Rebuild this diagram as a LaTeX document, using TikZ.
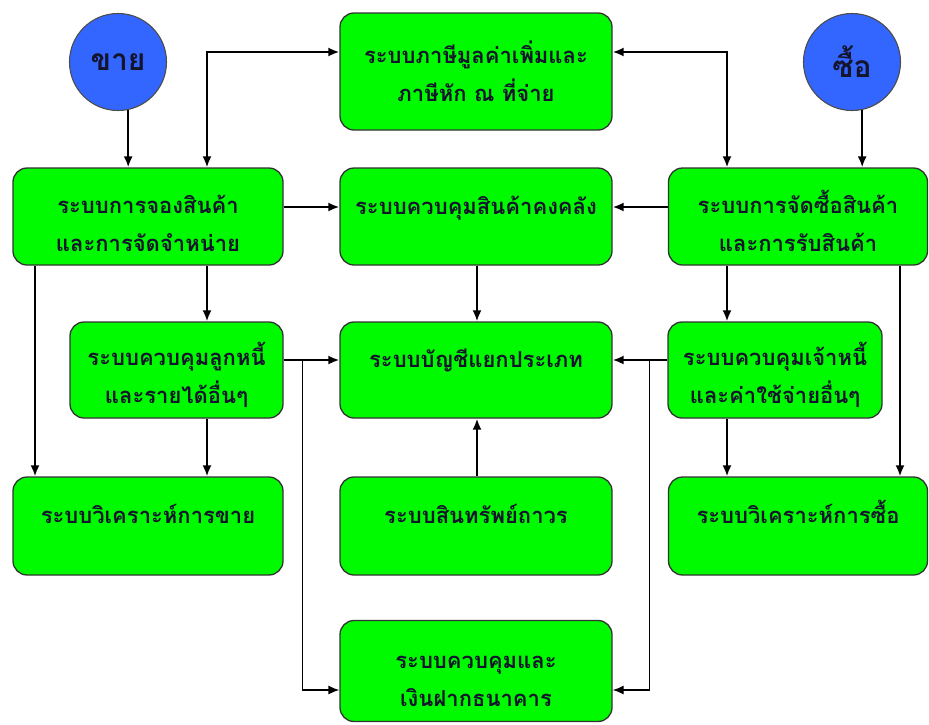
\documentclass[tikz,border=0pt]{standalone}
\usepackage{fontspec}
\newfontfamily\thaifont[Script=Thai]{Loma}
\usepackage{tikz}
\usetikzlibrary{positioning, calc, arrows.meta}
\definecolor{boxgreen}{RGB}{0,250,0}
\definecolor{roleblue}{RGB}{51,102,255}
\definecolor{inkdark}{RGB}{20,20,45}
\tikzset{
	sysbox/.style={
		draw=black!80,
		fill=boxgreen,
		rounded corners=14pt,
		line width=1.3pt,
		align=center,
		text=inkdark,
		font=\thaifont\bfseries\fontsize{22}{38}\selectfont,
		text height=71pt,
		minimum height=97pt
	},
	role/.style={
		draw=black!70,
		fill=roleblue,
		circle,
		line width=1.1pt,
		inner sep=0pt,
		minimum size=97pt,
		text=inkdark,
		font=\thaifont\bfseries\fontsize{30}{32}\selectfont
	},
	flow/.style={line width=2pt, black, >={Latex[length=11pt,width=9pt]}}
}

\begin{document}
\begin{tikzpicture}[x=1pt, y=-1pt]
		\useasboundingbox (0,0) rectangle (929,724);

		% start points
		\node[role] (sell) at (118,62) {ขาย};
		\node[role] (buy) at (852,62) {ซื้อ};

		% top row
		\node[sysbox, text height=, minimum width=272pt, minimum height=117pt] (tax) at (476,71.5) {ระบบภาษีมูลค่าเพิ่มและ\\ภาษีหัก ณ ที่จ่าย};

		% second row
		\node[sysbox, minimum width=270pt] (order) at (148,216.5) {ระบบการจองสินค้า\\และการจัดจำหน่าย};
		\node[sysbox, minimum width=272pt] (stock) at (476,216.5) {ระบบควบคุมสินค้าคงคลัง\\\mbox{}};
		\node[sysbox, minimum width=259pt] (purch) at (798,216.5) {ระบบการจัดซื้อสินค้า\\และการรับสินค้า};

		% third row
		\node[sysbox, minimum width=213pt, minimum height=96pt] (debtor) at (176.5,370) {ระบบควบคุมลูกหนี้\\และรายได้อื่นๆ};
		\node[sysbox, minimum width=272pt, minimum height=96pt] (ledger) at (476,370) {ระบบบัญชีแยกประเภท\\\mbox{}};
		\node[sysbox, minimum width=214pt, minimum height=96pt] (creditor) at (775,370) {ระบบควบคุมเจ้าหนี้\\และค่าใช้จ่ายอื่นๆ};

		% fourth row
		\node[sysbox, minimum width=270pt, minimum height=98pt] (salesan) at (148,526) {ระบบวิเคราะห์การขาย\\\mbox{}};
		\node[sysbox, minimum width=272pt, minimum height=98pt] (asset) at (476,526) {ระบบสินทรัพย์ถาวร\\\mbox{}};
		\node[sysbox, minimum width=259pt, minimum height=98pt] (purchan) at (798,526) {ระบบวิเคราะห์การซื้อ\\\mbox{}};

		% bottom
		\node[sysbox, minimum width=272pt, minimum height=101pt] (bank) at (476,671) {ระบบควบคุมและ\\เงินฝากธนาคาร};

		% connections
		\begin{scope}[flow]
		\draw[->] (sell.-78) -- (sell.-78 |- order.north);
		\draw[->] (buy.-78) -- (buy.-78 |- purch.north);

		% tax links
		\draw[<->] ([xshift=59pt]order.north) |- ([yshift=19.5pt]tax.west);
		\draw[<->] ([yshift=19.5pt]tax.east) -| ([xshift=-71pt]purch.north);

		% into stock and ledger
		\draw[->] ([yshift=9.5pt]order.east) -- ([yshift=9.5pt]stock.west);
		\draw[->] ([yshift=9.5pt]purch.west) -- ([yshift=9.5pt]stock.east);
		\draw[->] ([xshift=1pt]stock.south) -- ([xshift=1pt]ledger.north);
		\draw[->] ([xshift=1pt]asset.north) -- ([xshift=1pt]ledger.south);
		\draw[->] ([yshift=10pt]debtor.east) -- ([yshift=10pt]ledger.west);
		\draw[->] ([yshift=10pt]creditor.west) -- ([yshift=10pt]ledger.east);

		% sales side
		\draw[->] ([xshift=-113pt]order.south) -- ([xshift=-113pt]order.south |- salesan.north);
		\draw[->] ([xshift=59pt]order.south) -- ([xshift=59pt]order.south |- debtor.north);
		\draw[->] ([xshift=30.5pt]debtor.south) -- ([xshift=30.5pt]debtor.south |- salesan.north);

		% purchase side
		\draw[->] ([xshift=-71pt]purch.south) -- ([xshift=-71pt]purch.south |- creditor.north);
		\draw[->] ([xshift=102pt]purch.south) -- ([xshift=102pt]purch.south |- purchan.north);
		\draw[->] ([xshift=-48pt]creditor.south) -- ([xshift=-48pt]creditor.south |- purchan.north);
		\end{scope}

		% branches to bank
		\coordinate (jl) at ([xshift=19pt,yshift=10pt]debtor.east);
		\coordinate (jr) at ([xshift=-18pt,yshift=10pt]creditor.west);
		\begin{scope}[flow, line width=1.3pt]
		\draw[->] (jl) |- ([yshift=-19pt]bank.west);
		\draw[->] (jr) |- ([yshift=-19pt]bank.east);
		\end{scope}
\end{tikzpicture}
\end{document}
